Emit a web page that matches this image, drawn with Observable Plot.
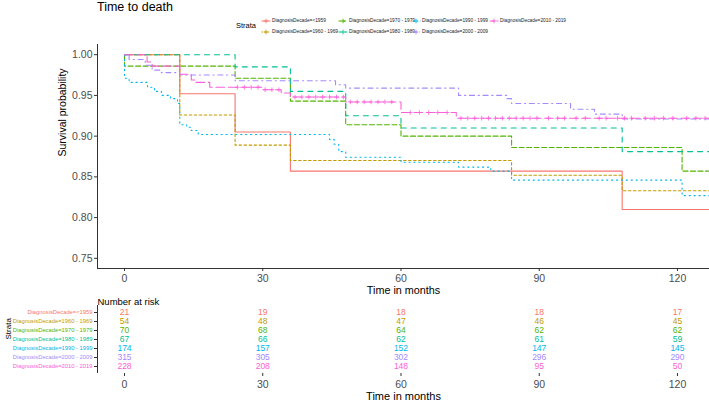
<!DOCTYPE html>
<html><head><meta charset="utf-8">
<script src="https://cdn.jsdelivr.net/npm/d3@7"></script>
<script src="https://cdn.jsdelivr.net/npm/@observablehq/plot@0.6"></script>
<style>
body{margin:0;background:#fff;font-family:"Liberation Sans",Arial,sans-serif;}
#wrap{position:relative;width:709px;height:406px;overflow:hidden;background:#fff;}
#wrap > svg{position:absolute;left:0;}
</style></head><body><div id="wrap"></div>
<script>
// ---- data ----
const strata = ["DiagnosisDecade=<1959","DiagnosisDecade=1960 - 1969","DiagnosisDecade=1970 - 1979","DiagnosisDecade=1980 - 1989","DiagnosisDecade=1990 - 1999","DiagnosisDecade=2000 - 2009","DiagnosisDecade=2010 - 2019"];
const time1959 = [0, 12, 24, 36, 108, 127];
const surv1959 = [1, 0.952, 0.905, 0.857, 0.810, 0.810];
const time1960 = [0, 12, 24, 36, 84, 108, 127];
const surv1960 = [1, 0.926, 0.889, 0.870, 0.852, 0.833, 0.833];
const time1970 = [0, 0, 24, 36, 48, 60, 84, 121, 127];
const surv1970 = [1, 0.986, 0.971, 0.943, 0.914, 0.900, 0.886, 0.857, 0.857];
const time1980 = [0, 24, 36, 48, 60, 108, 127];
const surv1980 = [1, 0.985, 0.955, 0.925, 0.910, 0.881, 0.881];
const time1990 = [0, 0, 1, 5, 6.5, 8, 10, 11.5, 12, 13.5, 14.5, 16, 44.5, 45.5, 46.5, 48, 60, 72.5, 79.5, 84, 121, 127];
const surv1990 = [1, 0.971, 0.966, 0.960, 0.955, 0.950, 0.946, 0.940, 0.914, 0.911, 0.907, 0.902, 0.896, 0.890, 0.881, 0.874, 0.868, 0.862, 0.857, 0.846, 0.827, 0.827];
const time2000 = [0, 1, 4.5, 6, 8, 12, 24, 45.8, 48, 72.5, 83, 84, 96.8, 102, 108, 127];
const surv2000 = [1, 0.994, 0.987, 0.981, 0.978, 0.975, 0.968, 0.963, 0.959, 0.950, 0.946, 0.940, 0.933, 0.927, 0.921, 0.921];
const time2010 = [0, 4.9, 6, 12, 14.5, 15.5, 18.5, 30, 34, 36, 48, 60, 72, 127];
const surv2010 = [1, 0.991, 0.986, 0.976, 0.969, 0.966, 0.960, 0.957, 0.953, 0.948, 0.942, 0.929, 0.922, 0.922];
const censor2010 = [24.5, 26, 27.5, 29, 30.5, 32, 33.5, 37, 38.5, 40, 41.5, 43, 44.5, 46, 47.5, 49, 50.5, 52, 53.5, 55, 56.5, 58, 62, 64, 66, 68, 70, 73, 74.5, 76, 77.5, 79, 80.5, 82, 83.5, 85, 86.5, 88, 89.5, 92, 94, 95.5, 98, 100, 103, 104.5, 107, 108.5, 110, 113, 115, 117, 119, 122, 124, 126];
const riskTimes = [0, 30, 60, 90, 120];
const risk1959 = [21, 19, 18, 18, 17];
const risk1960 = [54, 48, 47, 46, 45];
const risk1970 = [70, 68, 64, 62, 62];
const risk1980 = [67, 66, 62, 61, 59];
const risk1990 = [174, 157, 152, 147, 145];
const risk2000 = [315, 305, 302, 296, 290];
const risk2010 = [228, 208, 148, 95, 50];
const xTicks = [0, 30, 60, 90, 120];
const yTicks = [0.75, 0.80, 0.85, 0.90, 0.95, 1.00];

// ---- styles ----
const colors = ["#F8766D","#C49A00","#53B400","#00C094","#00B6EB","#A58AFF","#FB61D7"];
const dashes = ["none","2.5,2.5","5,2.5","5,5","1.2,3.7","1.2,3.7,5,3.7","8.7,3.7"];
const keyDashes = ["none","1.5,1.5","3,1.5","3,3","0.8,2","0.8,2,3,2","5,2"];
const font = "Liberation Sans, Arial, sans-serif";
const xDomain = [-5.86, 126.95];
const yDomain = [0.7375, 1.0125];

const times = [time1959,time1960,time1970,time1980,time1990,time2000,time2010];
const survs = [surv1959,surv1960,surv1970,surv1980,surv1990,surv2000,surv2010];
const risks = [risk1959,risk1960,risk1970,risk1980,risk1990,risk2000,risk2010];

function survAt(ts, ss, t){ let s = ss[0]; for (let k=0;k<ts.length;k++){ if (ts[k] <= t) s = ss[k]; } return s; }

const wrap = document.getElementById("wrap");

// ---- main KM plot ----
const lineMarks = strata.map((s,i) => Plot.line(times[i].map((t,k)=>({t, s: survs[i][k]})), {
  x:"t", y:"s", curve:"step-after", stroke: colors[i], strokeWidth: 1.1,
  strokeDasharray: dashes[i], clip: true
}));
const censorRows = censor2010.map(t => ({t, s: survAt(time2010, surv2010, t)}));

const mainChart = Plot.plot({
  width: 709, height: 296,
  marginTop: 44, marginBottom: 28, marginLeft: 97, marginRight: 0,
  style: {fontFamily: font, background: "white", overflow: "visible"},
  x: {domain: xDomain, label: null},
  y: {domain: yDomain, label: null},
  marks: [
    ...lineMarks,
    Plot.dot(censorRows, {x:"t", y:"s", symbol:"plus", r: 1.6, stroke: colors[6], strokeWidth: 0.8, clip: true}),
    Plot.ruleX([xDomain[0]], {stroke:"#333", strokeWidth: 1}),
    Plot.ruleY([yDomain[0]], {stroke:"#333", strokeWidth: 1}),
    Plot.axisX({ticks: xTicks, tickSize: 3, tickPadding: 3, fontSize: 10.5, label: null, stroke: "#333", fill: "#4d4d4d"}),
    Plot.axisY({ticks: yTicks, tickFormat: d3.format(".2f"), tickSize: 3, tickPadding: 2, fontSize: 10.5, label: null, stroke: "#333", fill: "#4d4d4d"}),
    Plot.text(["Time in months"], {text: d=>d, frameAnchor: "bottom", dy: 25, fontSize: 10.8, fill: "black"}),
    Plot.text(["Survival probability"], {text: d=>d, frameAnchor: "left", dx: -35, rotate: -90, fontSize: 10.5, fill: "black"})
  ]
});
mainChart.style.top = "0px";
wrap.appendChild(mainChart);

// ---- risk table ----
const riskMarks = [];
strata.forEach((s,i) => {
  riskMarks.push(Plot.text(riskTimes.map((t,k)=>({t, n: risks[i][k], strata: s})), {
    x:"t", y:"strata", text: d => String(d.n), fill: colors[i], fontSize: 8.5
  }));
  riskMarks.push(Plot.text([s], {x: () => xDomain[0], y: d=>d, text: d=>d, textAnchor: "end", dx: -5, fontSize: 5.8, fill: colors[i]}));
});
const table = Plot.plot({
  width: 709, height: 116,
  marginTop: 15, marginBottom: 33, marginLeft: 97, marginRight: 0,
  style: {fontFamily: font, background: "none", overflow: "visible"},
  x: {domain: xDomain, label: null},
  y: {type: "point", domain: strata, padding: 0.645, label: null},
  marks: [
    ...riskMarks,
    Plot.ruleX([xDomain[0]], {stroke:"#333", strokeWidth: 1}),
    Plot.axisY({tickFormat: () => "", tickSize: 3, label: null, stroke: "#333"}),
    Plot.axisX({ticks: xTicks, tickSize: 3, tickPadding: 4, fontSize: 10.5, label: null, stroke: "#333", fill: "#4d4d4d"}),
    Plot.text(["Number at risk"], {text: d=>d, frameAnchor: "top-left", dy: -7, textAnchor: "start", fontSize: 9.5, fill: "black"}),
    Plot.text(["Time in months"], {text: d=>d, frameAnchor: "bottom", dy: 26, fontSize: 11, fill: "black"}),
    Plot.text(["Strata"], {text: d=>d, frameAnchor: "left", dx: -89, rotate: -90, fontSize: 8, fill: "black"})
  ]
});
table.style.top = "290px";
wrap.appendChild(table);

// ---- title + legend ----
const header = d3.create("svg").attr("width", 709).attr("height", 44)
  .style("top", "0px").style("font-family", font);
header.append("text").attr("x", 97).attr("y", 11).attr("font-size", 12.5).attr("fill", "black").text("Time to death");
header.append("text").attr("x", 236).attr("y", 26).attr("dominant-baseline", "middle").attr("font-size", 7.5).attr("fill", "black").text("Strata");
const keyX = [266, 266, 343, 343, 416, 416, 494];
const keyY = [21, 32, 21, 32, 21, 32, 21];
strata.forEach((s,i) => {
  const cx = keyX[i], cy = keyY[i];
  const g = header.append("g");
  g.append("line").attr("x1", cx-4.5).attr("x2", cx+4.5).attr("y1", cy).attr("y2", cy)
    .attr("stroke", colors[i]).attr("stroke-width", 1).attr("stroke-dasharray", keyDashes[i]);
  g.append("line").attr("x1", cx-2.3).attr("x2", cx+2.3).attr("y1", cy).attr("y2", cy).attr("stroke", colors[i]).attr("stroke-width", 0.9);
  g.append("line").attr("x1", cx).attr("x2", cx).attr("y1", cy-2.3).attr("y2", cy+2.3).attr("stroke", colors[i]).attr("stroke-width", 0.9);
  g.append("text").attr("x", cx+6).attr("y", cy).attr("dominant-baseline", "middle")
    .attr("font-size", 4.8).attr("fill", "#1a1a1a").text(s);
});
wrap.appendChild(header.node());
</script>
</body></html>
